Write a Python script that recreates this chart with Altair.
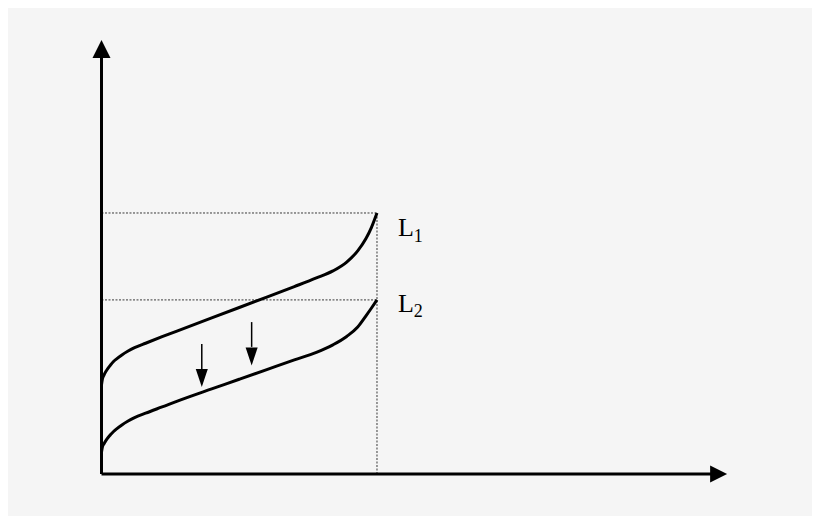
import altair as alt
import pandas as pd

# curve samples (x in units of the dotted guide, y in the same units)
curve_x = [0, 0.03, 0.09, 0.17, 0.24, 0.33, 0.42, 0.55, 0.74, 0.95, 1.2, 1.6, 2.2,
           3.0, 4.0, 5.0, 6.0, 7.0, 7.8, 8.4, 8.9, 9.3, 9.6, 9.8, 10]
l1_y = [3.41, 3.62, 3.79, 3.95, 4.06, 4.18, 4.29, 4.41, 4.56, 4.70, 4.84, 5.01, 5.26,
        5.58, 5.98, 6.38, 6.78, 7.18, 7.51, 7.78, 8.12, 8.55, 9.02, 9.45, 10]
l2_y = [0.84, 1.02, 1.16, 1.30, 1.40, 1.51, 1.61, 1.73, 1.88, 2.02, 2.16, 2.33, 2.57,
        2.89, 3.26, 3.63, 4.00, 4.37, 4.66, 4.95, 5.27, 5.63, 6.06, 6.36, 6.67]

# guide levels and axis extents
x_end = 10
level_l1 = 10
level_l2 = 6.67
y_axis_top = 16.0
x_axis_end = 22.2
y_head = 16.28
x_head = 22.4

# downward shift arrows
arrow_x = [3.64, 5.45]
arrow_top = [4.98, 5.82]
arrow_neck = [4.02, 4.87]
arrow_head = [3.68, 4.50]

# labels
label_main = ["L", "L"]
label_sub = ["1", "2"]
label_x = [10.76, 10.76]
label_y = [9.12, 6.21]
sub_x = [11.33, 11.33]
sub_y = [8.87, 6.00]

X_DOM = [-3.394, 25.79]
Y_DOM = [-1.609, 17.854]

xs = alt.Scale(domain=X_DOM, nice=False, zero=False)
ys = alt.Scale(domain=Y_DOM, nice=False, zero=False)


def X(field="x"):
    return alt.X(f"{field}:Q", scale=xs, axis=None)


def Y(field="y"):
    return alt.Y(f"{field}:Q", scale=ys, axis=None)


curves = pd.DataFrame(
    {"x": curve_x * 2, "y": l1_y + l2_y, "s": ["L1"] * len(curve_x) + ["L2"] * len(curve_x)}
)

guides = pd.DataFrame(
    {
        "x": [0, 0, x_end],
        "x2": [x_end, x_end, x_end],
        "y": [level_l1, level_l2, 0],
        "y2": [level_l1, level_l2, level_l1],
    }
)

axes = pd.DataFrame({"x": [0, 0], "x2": [0, x_axis_end], "y": [0, 0], "y2": [y_axis_top, 0]})

arrows = pd.DataFrame({"x": arrow_x, "top": arrow_top, "neck": arrow_neck, "head": arrow_head})
labels = pd.DataFrame({"t": label_main, "x": label_x, "y": label_y, "sx": sub_x, "sy": sub_y, "s": label_sub})

guide_layer = (
    alt.Chart(guides)
    .mark_rule(color="#3a3a3a", strokeWidth=1, strokeDash=[2, 1.5])
    .encode(x=X(), x2="x2:Q", y=Y(), y2="y2:Q")
)

axis_layer = (
    alt.Chart(axes)
    .mark_rule(color="black", strokeWidth=3)
    .encode(x=X(), x2="x2:Q", y=Y(), y2="y2:Q")
)

y_arrow = (
    alt.Chart(pd.DataFrame({"x": [0], "y": [y_head]}))
    .mark_point(shape="M-1,1L0,-1L1,1Z", filled=True, size=324, color="black", opacity=1)
    .encode(x=X(), y=Y())
)

x_arrow = (
    alt.Chart(pd.DataFrame({"x": [x_head], "y": [0]}))
    .mark_point(shape="M-1,-1L1,0L-1,1Z", filled=True, size=289, color="black", opacity=1)
    .encode(x=X(), y=Y())
)

curve_layer = (
    alt.Chart(curves)
    .mark_line(color="black", strokeWidth=3, interpolate="monotone")
    .encode(x=X(), y=Y(), detail="s:N")
)

shaft_layer = (
    alt.Chart(arrows)
    .mark_rule(color="black", strokeWidth=1.5)
    .encode(x=X(), y=Y("top"), y2="neck:Q")
)

head_layer = (
    alt.Chart(arrows)
    .mark_point(shape="M-0.67,-1L0.67,-1L0,1Z", filled=True, size=324, color="black", opacity=1)
    .encode(x=X(), y=Y("head"))
)

text_layer = (
    alt.Chart(labels)
    .mark_text(font="Liberation Serif", fontSize=26, align="left", baseline="alphabetic", color="black")
    .encode(x=X(), y=Y(), text="t:N")
)

sub_layer = (
    alt.Chart(labels)
    .mark_text(font="Liberation Serif", fontSize=18, align="left", baseline="alphabetic", color="black")
    .encode(x=X("sx"), y=Y("sy"), text="s:N")
)

chart = (
    alt.layer(
        guide_layer, axis_layer, y_arrow, x_arrow, curve_layer,
        shaft_layer, head_layer, text_layer, sub_layer,
    )
    .properties(width=804, height=508, padding=0, autosize="none")
    .configure(background="#f5f5f5")
    .configure_view(stroke=None)
)

chart.save("out.html", embed_options={"renderer": "svg", "actions": False})
